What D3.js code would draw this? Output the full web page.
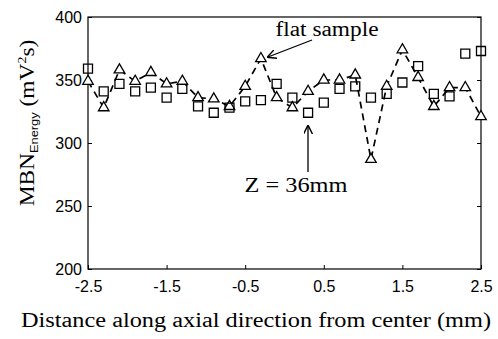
<!DOCTYPE html>
<html>
<head>
<meta charset="utf-8">
<script src="https://cdn.jsdelivr.net/npm/d3@7"></script>
<style>
  body { margin: 0; background: #fff; }
  .tick text { font-family: "Liberation Sans", Arial, sans-serif; font-size: 16px; }
  .serif { font-family: "Liberation Serif", "Times New Roman", serif; }
</style>
</head>
<body>
<div id="chart"></div>
<script>
// ......................
// Data
var positions = [-2.5, -2.3, -2.1, -1.9, -1.7, -1.5, -1.3, -1.1, -0.9, -0.7, -0.5, -0.3, -0.1,
                 0.1, 0.3, 0.5, 0.7, 0.9, 1.1, 1.3, 1.5, 1.7, 1.9, 2.1, 2.3, 2.5];
var flatSample = [349, 328, 358, 349, 356, 347, 349, 336, 335, 329, 345, 367, 336,
                  328, 341, 350, 350, 354, 287, 345, 374, 352, 329, 344, 344, 321];
var z36 = [359, 341, 347, 341, 344, 336, 343, 329, 324, 328, 333, 334, 347,
           336, 324, 332, 343, 345, 336, 339, 348, 361, 339, 337, 371, 373];
var xTicks = [-2.5, -1.5, -0.5, 0.5, 1.5, 2.5];
var yTicks = [200, 250, 300, 350, 400];

// ......................
// SVG area
var svgWidth = 498;
var svgHeight = 339;
var Margin = { top: 17, right: 17, bottom: 70, left: 88 };
var width = svgWidth - Margin.left - Margin.right;
var height = svgHeight - Margin.top - Margin.bottom;

var svg = d3.select("#chart")
    .append("svg")
    .attr("width", svgWidth)
    .attr("height", svgHeight);

var g = svg.append("g")
    .attr("transform", `translate(${Margin.left}, ${Margin.top})`);

// scales
var x = d3.scaleLinear().domain([-2.5, 2.5]).range([0, width]);
var y = d3.scaleLinear().domain([200, 400]).range([height, 0]);

// axes (ticks pointing inward)
var xAxis = d3.axisBottom(x).tickValues(xTicks).tickSize(-4).tickPadding(12);
var yAxis = d3.axisLeft(y).tickValues(yTicks).tickSize(-4).tickPadding(6);

g.append("g")
    .attr("class", "xAxis")
    .attr("transform", `translate(0, ${height})`)
    .call(xAxis)
    .call(s => s.select(".domain").remove())
    .call(s => s.selectAll(".tick text").attr("fill", "#000").text(d => d3.format(".1f")(d).replace("−", "-")));

g.append("g")
    .attr("class", "yAxis")
    .call(yAxis)
    .call(s => s.select(".domain").remove())
    .call(s => s.selectAll(".tick text").attr("fill", "#000"));

// right side ticks
g.append("g")
    .attr("transform", `translate(${width}, 0)`)
    .call(d3.axisRight(y).tickValues(yTicks).tickSize(-4).tickFormat(""))
    .call(s => s.select(".domain").remove());

// frame
g.append("rect")
    .attr("width", width)
    .attr("height", height)
    .attr("fill", "none")
    .attr("stroke", "#000")
    .attr("stroke-width", 1.2);

// ......................
// flat sample: dashed line with triangles
var line = d3.line()
    .x((d, i) => x(positions[i]))
    .y(d => y(d));

g.append("path")
    .datum(flatSample)
    .attr("d", line)
    .attr("fill", "none")
    .attr("stroke", "#000")
    .attr("stroke-width", 1.7)
    .attr("stroke-dasharray", "7,5");

var tri = d3.symbol().type(d3.symbolTriangle).size(48);
g.selectAll(".tri")
    .data(flatSample)
    .enter()
    .append("path")
    .attr("class", "tri")
    .attr("d", tri)
    .attr("transform", (d, i) => `translate(${x(positions[i])}, ${y(d)})`)
    .attr("fill", "#fff")
    .attr("stroke", "#000")
    .attr("stroke-width", 1.3);

// Z = 36mm: squares
var sq = d3.symbol().type(d3.symbolSquare).size(81);
g.selectAll(".sq")
    .data(z36)
    .enter()
    .append("path")
    .attr("class", "sq")
    .attr("d", sq)
    .attr("transform", (d, i) => `translate(${x(positions[i])}, ${y(d)})`)
    .attr("fill", "none")
    .attr("stroke", "#000")
    .attr("stroke-width", 1.3);

// ......................
// annotations
var defs = svg.append("defs");
defs.append("marker")
    .attr("id", "arrow")
    .attr("viewBox", "0 0 10 10")
    .attr("refX", 9)
    .attr("refY", 5)
    .attr("markerWidth", 9)
    .attr("markerHeight", 9)
    .attr("markerUnits", "userSpaceOnUse")
    .attr("orient", "auto")
    .append("path")
    .attr("d", "M0,0 L10,5 L0,10")
    .attr("fill", "none")
    .attr("stroke", "#000")
    .attr("stroke-width", 1.6);

svg.append("text")
    .attr("class", "serif")
    .attr("x", 327)
    .attr("y", 36)
    .attr("text-anchor", "middle")
    .attr("font-size", 20)
    .attr("textLength", 103)
    .attr("lengthAdjust", "spacingAndGlyphs")
    .text("flat sample");

svg.append("line")
    .attr("x1", 312).attr("y1", 40)
    .attr("x2", 268).attr("y2", 57)
    .attr("stroke", "#000")
    .attr("stroke-width", 1.3)
    .attr("marker-end", "url(#arrow)");

svg.append("text")
    .attr("class", "serif")
    .attr("x", 296)
    .attr("y", 192)
    .attr("text-anchor", "middle")
    .attr("font-size", 20)
    .attr("textLength", 103)
    .attr("lengthAdjust", "spacingAndGlyphs")
    .text("Z = 36mm");

svg.append("line")
    .attr("x1", 308).attr("y1", 172)
    .attr("x2", 308).attr("y2", 126)
    .attr("stroke", "#000")
    .attr("stroke-width", 1.3)
    .attr("marker-end", "url(#arrow)");

// axis labels
svg.append("text")
    .attr("class", "serif")
    .attr("x", 256)
    .attr("y", 327)
    .attr("text-anchor", "middle")
    .attr("font-size", 20)
    .attr("textLength", 470)
    .attr("lengthAdjust", "spacingAndGlyphs")
    .text("Distance along axial direction from center (mm)");

var yLabel = svg.append("text")
    .attr("class", "serif")
    .attr("transform", "translate(34, 123) rotate(-90) scale(1.17, 1)")
    .attr("text-anchor", "middle")
    .attr("font-size", 20);
yLabel.append("tspan").text("MBN");
yLabel.append("tspan")
    .attr("dy", 4)
    .attr("font-size", 11)
    .attr("font-family", "Liberation Sans, Arial, sans-serif")
    .text("Energy");
yLabel.append("tspan").attr("dy", -4).text(" (mV");
yLabel.append("tspan").attr("dy", -8).attr("font-size", 12).text("2");
yLabel.append("tspan").attr("dy", 8).text("s)");
</script>
</body>
</html>
